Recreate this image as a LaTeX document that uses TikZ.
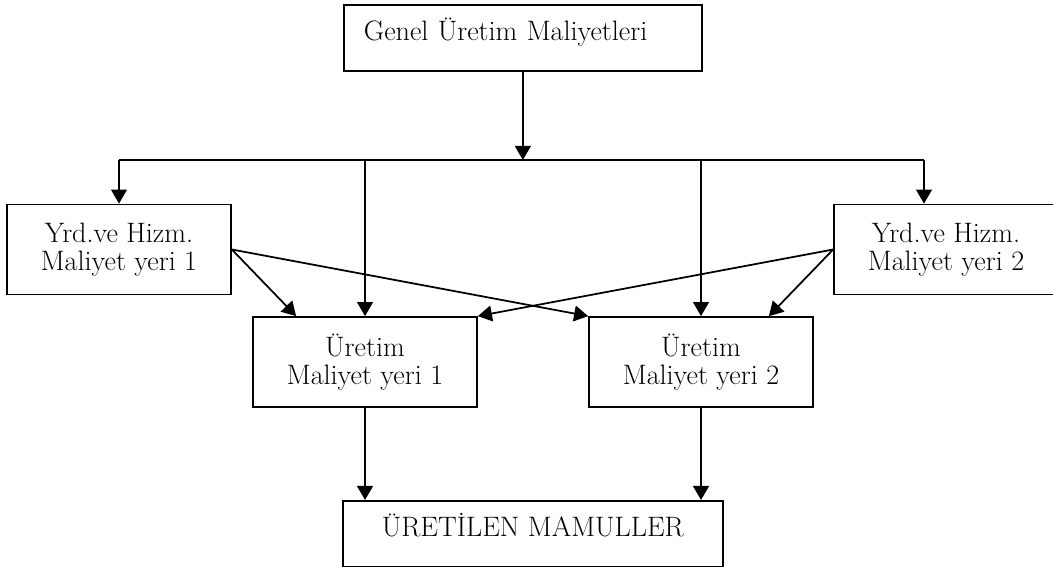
\documentclass[tikz,border=0pt]{standalone}
\usepackage{fontspec}
\usetikzlibrary{arrows.meta,calc}
\tikzset{
  costbox/.style={draw, line width=1pt, inner sep=0pt, align=center, minimum width=4.48cm, minimum height=1.8cm},
  topbox/.style={draw, line width=1pt, inner sep=0pt, text height=0.72cm, text depth=0.61cm},
  flow/.style={line width=1pt, -{Triangle[width=9pt,length=8pt]}},
  bus/.style={line width=1pt}
}
\begin{document}
\begin{tikzpicture}[x=0.02cm,y=-0.02cm,font=\fontsize{16}{16}\selectfont]
\useasboundingbox (0,0) rectangle (1053,567);
\clip (0,0) rectangle (1053,567);
\node [topbox, anchor=north west, inner xsep=0.4cm, text width=6.36cm, align=left] (genel) at (343,4) {Genel Üretim Maliyetleri};
\node [costbox] (yrd1) at (119,249.5) {Yrd.ve Hizm.\\Maliyet yeri 1};
\node [costbox] (yrd2) at (946,249.5) {Yrd.ve Hizm.\\Maliyet yeri 2};
\node [costbox] (ur1) at (365,362) {Üretim\\Maliyet yeri 1};
\node [costbox] (ur2) at (701,362) {Üretim\\Maliyet yeri 2};
\node [topbox, anchor=north west, minimum width=7.6cm, align=center] (mamul) at (342,500) {ÜRETİLEN MAMULLER};
\coordinate (bus) at (genel.south |- 0,160);
\coordinate (yrd2in) at ($(yrd2.north)+(-22,0)$);
\draw [flow] (genel.south) -- (bus);
\draw [bus] (yrd1.north |- bus) -- (yrd2in |- bus);
\draw [flow] (yrd1.north |- bus) -- (yrd1.north);
\draw [flow] (ur1.north |- bus) -- (ur1.north);
\draw [flow] (ur2.north |- bus) -- (ur2.north);
\draw [flow] (yrd2in |- bus) -- (yrd2in);
\draw [flow] (yrd1.east) -- ($(ur1.north west)+(44,0)$);
\draw [flow] (yrd1.east) -- (ur2.north west);
\draw [flow] (yrd2.west) -- ($(ur2.north east)+(-45,0)$);
\draw [flow] (yrd2.west) -- (ur1.north east);
\draw [flow] (ur1.south) -- (ur1.south |- mamul.north);
\draw [flow] (ur2.south) -- (ur2.south |- mamul.north);
\end{tikzpicture}
\end{document}
